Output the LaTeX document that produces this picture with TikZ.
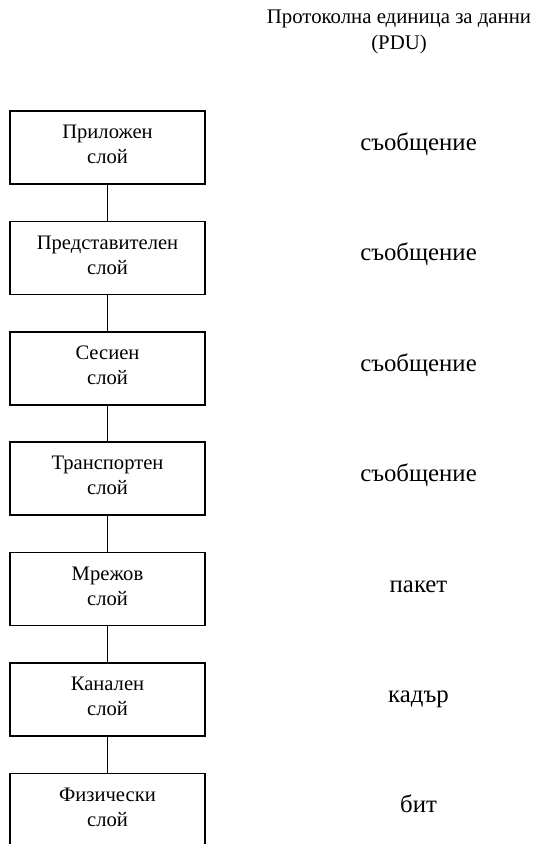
\documentclass[tikz,border=0pt]{standalone}
\usepackage{fontspec}
\setmainfont{Liberation Serif}
\usetikzlibrary{calc}
\begin{document}
\begin{tikzpicture}[x=1bp,y=-1bp,
  layerbox/.style={draw, line width=1.5bp, minimum width=195bp, minimum height=73bp, inner sep=0pt},
  layertext/.style={align=center, font=\fontsize{20.6bp}{25bp}\selectfont},
  pdutext/.style={anchor=base, font=\fontsize{24.8bp}{29bp}\selectfont},
  link/.style={line width=1bp}]
\useasboundingbox (0,0) rectangle (539,844);
\clip (0,0) rectangle (539,844);

% column heading
\node[align=center, font=\fontsize{20.8bp}{26bp}\selectfont, anchor=base] (head)
  at (399,49) {Протоколна единица за данни\\(PDU)};

% layer boxes, one every 110.4bp
\foreach \i/\name/\pdu in {1/Приложен/съобщение, 2/Представителен/съобщение,
    3/Сесиен/съобщение, 4/Транспортен/съобщение, 5/Мрежов/пакет,
    6/Канален/кадър, 7/Физически/бит} {
  \node[layerbox] (l\i) at (107.5,{147.5+(\i-1)*110.4}) {};
  \node[layertext] (t\i) at ($(l\i.center)+(0,-3)$) {\name\\слой};
  \node[pdutext] (p\i) at ($(l\i.center)+(311,3)$) {\pdu};
}

% vertical links between neighbouring layers
\foreach \i/\j in {1/2,2/3,3/4,4/5,5/6,6/7}
  \draw[link] (l\i.south) -- (l\j.north);
\end{tikzpicture}
\end{document}
